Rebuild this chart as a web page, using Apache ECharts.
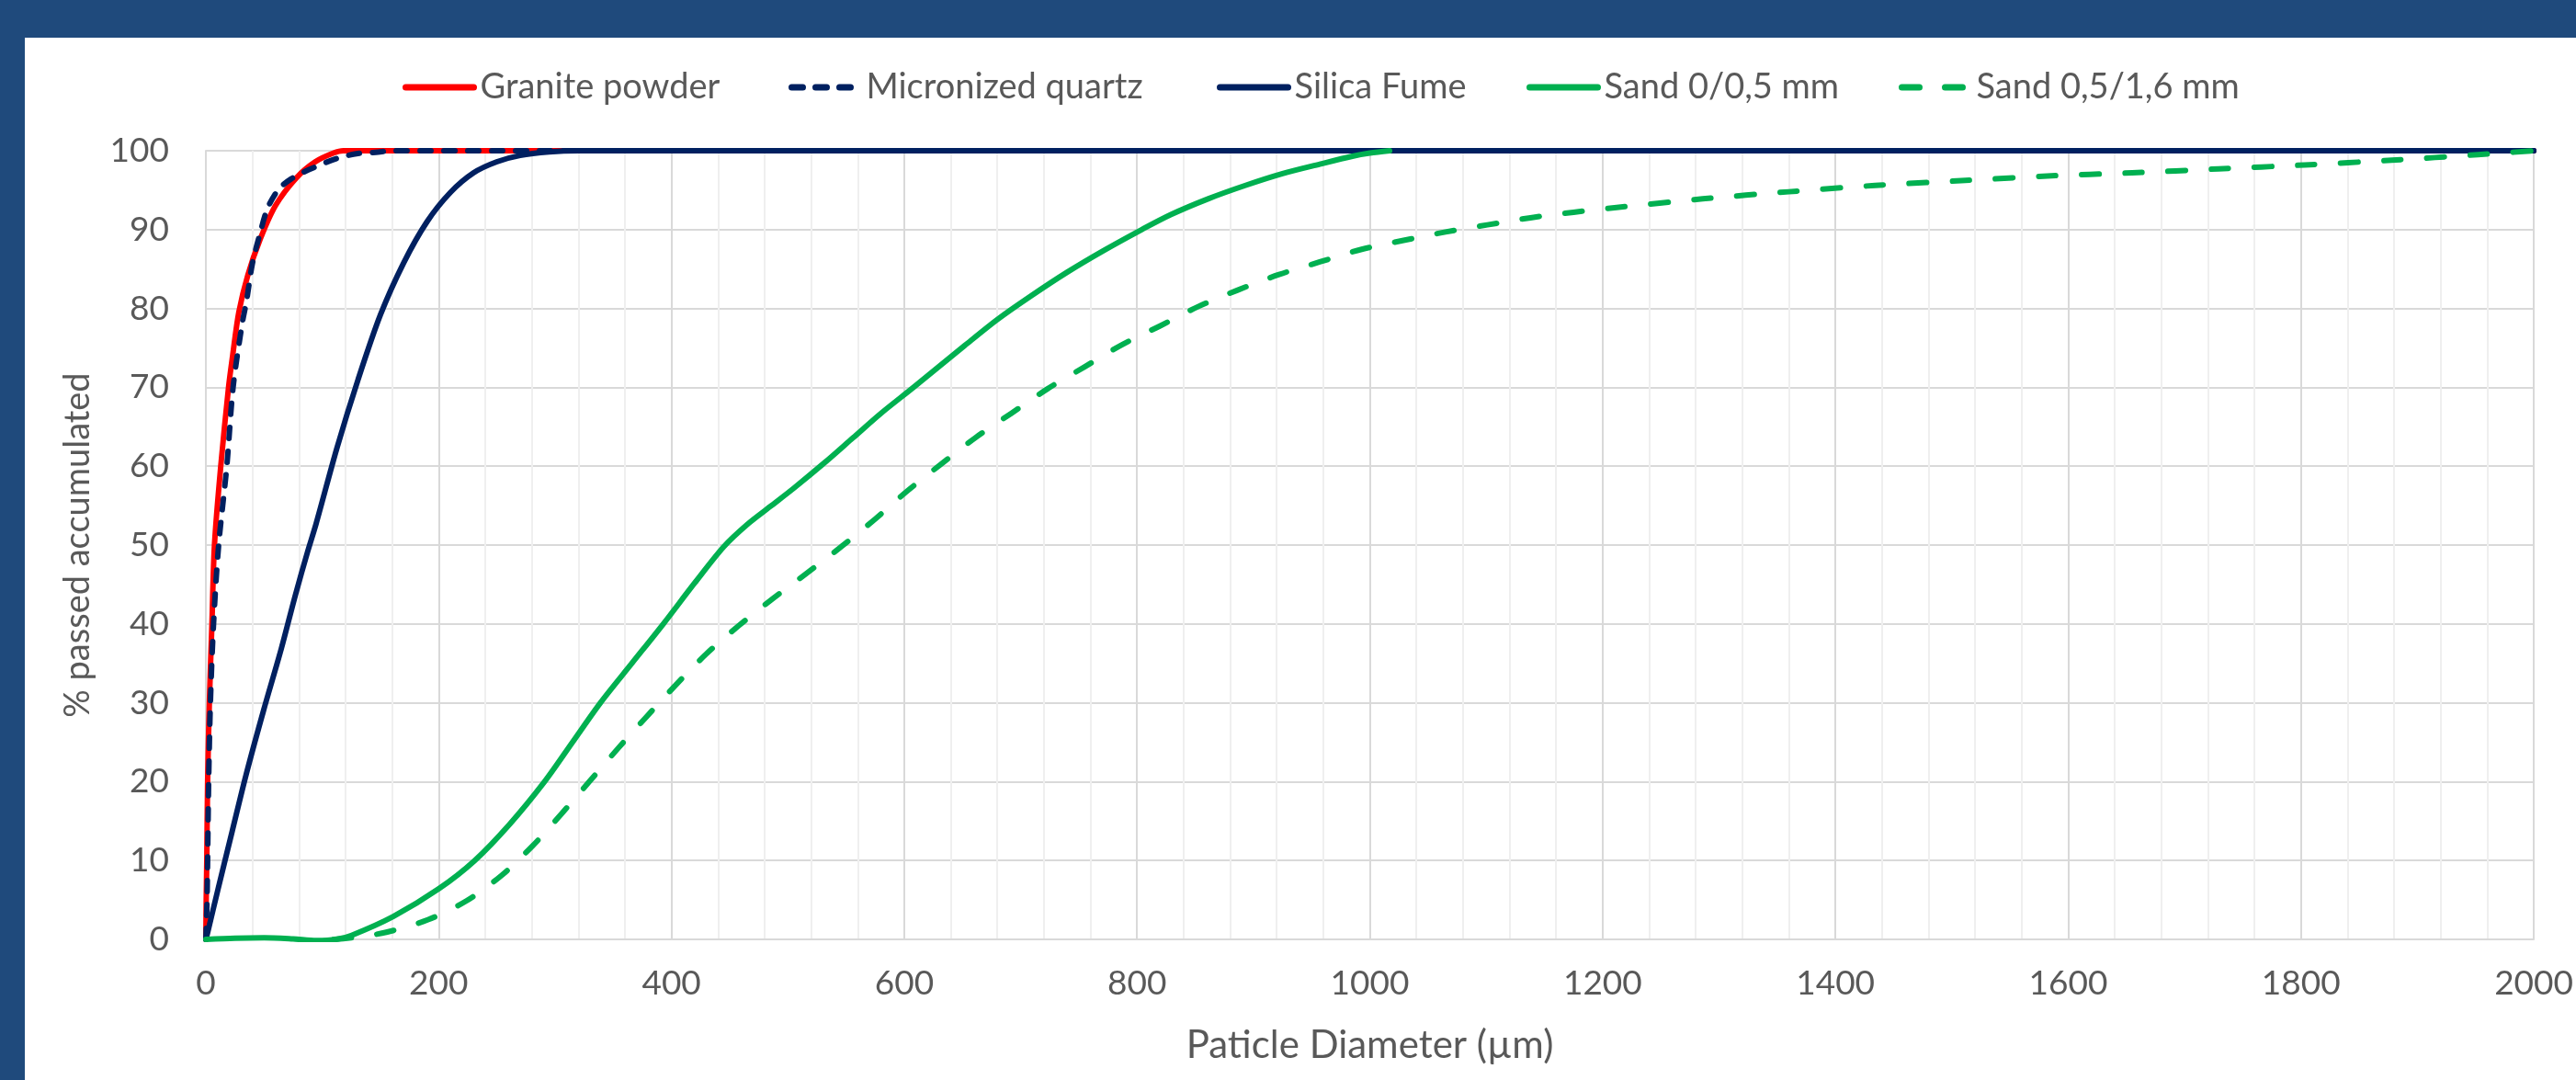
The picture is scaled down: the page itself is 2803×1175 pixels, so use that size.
<!DOCTYPE html>
<html>
<head>
<meta charset="utf-8">
<script src="https://cdn.jsdelivr.net/npm/echarts@6/dist/echarts.min.js"></script>
<style>
  html, body { margin: 0; padding: 0; width: 2803px; height: 1175px; background: #1F4A7C; overflow: hidden; }
  #chart { position: absolute; left: 27px; top: 41px; width: 2776px; height: 1134px; background: #ffffff; }
</style>
</head>
<body>
<div id="chart"></div>
<script>
// ---- Data (x = particle diameter in µm, y = % passed accumulated) ----
const seriesNames = ['Granite powder', 'Micronized quartz', 'Silica Fume', 'Sand 0/0,5 mm', 'Sand 0,5/1,6 mm'];

const granitePowder = [
  [0, 0], [0.3, 5], [0.8, 10], [1.5, 20], [3, 30], [5.2, 40], [7.4, 50], [12.8, 60],
  [19.5, 70], [23, 74], [28.3, 79.5], [36, 84.2], [46.7, 88.8], [60, 93.1], [78, 96.6],
  [94, 98.6], [109.6, 99.7], [118, 100], [2000, 100]
];

const micronizedQuartz = [
  [0, 0], [1, 5], [1.5, 10], [2.4, 20], [3.9, 30], [6.6, 40], [11, 50], [18, 60],
  [23.4, 70], [31, 77.9], [35, 81], [40, 85.7], [46.7, 89.6], [53, 92.7], [62.4, 95.1],
  [73, 96.4], [88.6, 97.6], [112, 99], [130.6, 99.65], [146, 99.8], [160, 100], [2000, 100]
];

const silicaFume = [
  [0, 0], [1.5, 0.85], [10.5, 6.4], [22.6, 13.7], [34.6, 20.9], [49.7, 29.1], [64.7, 36.8],
  [76.8, 43.6], [87.3, 49.1], [94.7, 52.7], [112.8, 62.4], [130.8, 71], [150, 79.2],
  [170, 85.8], [190, 91], [210, 94.7], [230, 97.2], [250, 98.6], [270, 99.4], [295, 99.85],
  [320, 100], [2000, 100]
];

const sand0to05 = [
  [0, 0], [25, 0.15], [50, 0.2], [75, 0.05], [95, -0.15], [112, 0], [125, 0.5], [161, 2.9],
  [200, 6.4], [231, 10], [261, 14.6], [291, 20], [315, 25], [339, 30], [366, 35], [393, 40],
  [420, 45.2], [445, 49.8], [465, 52.6], [485, 54.9], [505, 57.2], [532, 60.5], [556, 63.6],
  [580, 66.7], [608, 70], [652, 75.3], [680, 78.6], [708, 81.5], [740, 84.6], [772, 87.4],
  [804, 90], [829, 91.9], [861, 93.9], [893, 95.6], [925, 97.1], [957, 98.3], [985, 99.3],
  [1000, 99.7], [1017, 100]
];

const sand05to16 = [
  [110, 0], [130, 0.3], [155, 0.9], [191, 2.5], [224, 4.9], [254, 8.1], [281, 11.9],
  [306, 16], [330, 20.1], [354, 24.2], [379, 28.3], [404, 32.3], [430, 36.2], [458, 39.8],
  [487, 43.2], [516, 46.4], [546, 49.8], [575, 53.3], [603, 56.9], [632, 60.3], [661, 63.6],
  [692, 66.7], [723, 69.8], [755, 72.6], [787, 75.4], [820, 77.8], [852, 80.2], [886, 82.3],
  [922, 84.3], [957, 85.9], [993, 87.5], [1028, 88.6], [1065, 89.7], [1101, 90.6],
  [1138, 91.5], [1175, 92.2], [1212, 92.8], [1286, 93.9], [1360, 94.8], [1434, 95.6],
  [1508, 96.2], [1582, 96.8], [1655, 97.2], [1729, 97.7], [1803, 98.2], [1878, 98.8],
  [1952, 99.5], [2000, 100]
];

const xAxisTitle = 'Paticle Diameter (µm)';
const yAxisTitle = '% passed accumulated';

// ---- Chart ----
const FONT = 'Lato';
const TXT = '#595959';
const chart = echarts.init(document.getElementById('chart'), null, { renderer: 'canvas' });

function lineSeries(name, data, color, dash) {
  return {
    name: name,
    type: 'line',
    data: data,
    showSymbol: false,
    symbol: 'none',
    smooth: 0.3,
    animation: false,
    lineStyle: {
      color: color,
      width: 6,
      type: dash || 'solid',
      cap: 'round',
      join: 'round'
    },
    itemStyle: { color: color }
  };
}

// one legend block per entry, placed where the reference shows it
const legendLefts = [406, 826, 1292, 1629, 2034];
const legends = seriesNames.map(function (n, i) {
  return {
    data: [n],
    left: legendLefts[i],
    top: 30,
    itemWidth: 74,
    itemHeight: 16,
    itemStyle: { opacity: 0 },
    lineStyle: { width: 7 },
    selectedMode: false,
    textStyle: { color: TXT, fontSize: 38, fontFamily: FONT, padding: [0, 0, 0, 2] }
  };
});

chart.setOption({
  animation: false,
  textStyle: { fontFamily: FONT },
  legend: legends,
  grid: { left: 197, top: 123, width: 2542, height: 858, containLabel: false },
  xAxis: {
    type: 'value',
    min: 0, max: 2000, interval: 200,
    name: xAxisTitle,
    nameLocation: 'middle',
    nameGap: 94,
    nameTextStyle: { color: TXT, fontSize: 42, fontFamily: FONT },
    axisLine: { show: true, lineStyle: { color: '#d9d9d9', width: 2 } },
    axisTick: { show: false },
    axisLabel: { color: TXT, fontSize: 37, fontFamily: FONT, margin: 30,
      formatter: function (v) { return String(v); } },
    splitLine: { show: true, lineStyle: { color: '#d9d9d9', width: 2 } },
    minorTick: { show: false, splitNumber: 5 },
    minorSplitLine: { show: true, lineStyle: { color: '#efefef', width: 2 } }
  },
  yAxis: {
    type: 'value',
    min: 0, max: 100, interval: 10,
    name: yAxisTitle,
    nameLocation: 'middle',
    nameGap: 120,
    nameTextStyle: { color: TXT, fontSize: 38, fontFamily: FONT },
    axisLine: { show: true, lineStyle: { color: '#d9d9d9', width: 2 } },
    axisTick: { show: false },
    axisLabel: { color: TXT, fontSize: 37, fontFamily: FONT, margin: 40,
      formatter: function (v) { return String(v); } },
    splitLine: { show: true, lineStyle: { color: '#d9d9d9', width: 2 } }
  },
  series: [
    lineSeries(seriesNames[0], granitePowder, '#FF0000'),
    lineSeries(seriesNames[1], micronizedQuartz, '#002060', [12, 14]),
    lineSeries(seriesNames[2], silicaFume, '#002060'),
    lineSeries(seriesNames[3], sand0to05, '#00B050'),
    lineSeries(seriesNames[4], sand05to16, '#00B050', [19, 28])
  ]
});
</script>
</body>
</html>
